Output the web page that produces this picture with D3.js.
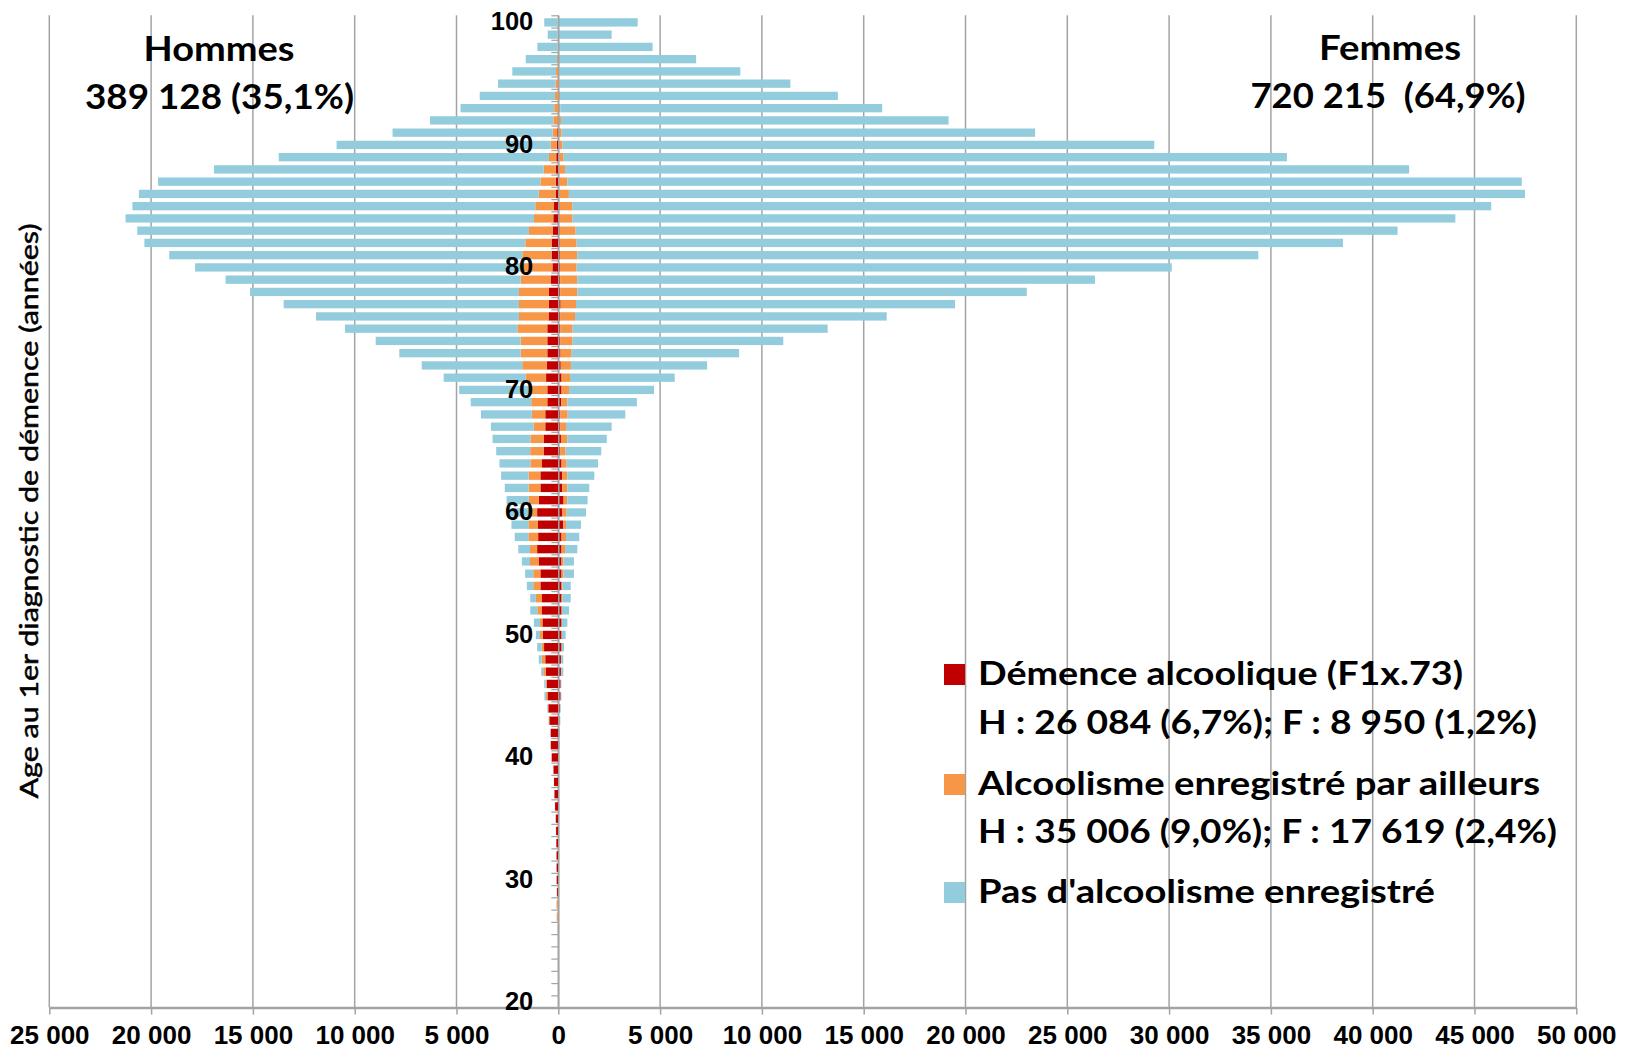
<!DOCTYPE html>
<html><head><meta charset="utf-8">
<script src="https://cdn.jsdelivr.net/npm/d3@7"></script>
<style>body{margin:0;background:#fff}svg{display:block}</style>
</head><body>
<script>
// ages from 100 (top) down to 20 (bottom)
const ages = d3.range(100, 19, -1);

// Hommes (values per age, 100 -> 20)
const hommesDemence = [0,0,0,0,10,15,20,25,30,50, 80,100,115,120,130,210,245,280,330,330, 290,380,460,470,480,540,540,540,560,600, 540,540,640,640,720,720,800,880,880,960, 1040,1000,990,1040,970,880,880,800,800,780, 760,700,640,610,570,530,490,440,375,370, 325,240,210,190,160,120,110,100,90,85, 80,60,20,20,10,5,0,0,0,0, 0];
const hommesAlcool = [20,20,30,60,100,115,140,175,210,230, 300,360,605,760,830,920,950,1160,1290,1440, 1510,1470,1470,1460,1450,1470,1310,1310,1210,1000, 910,790,660,580,650,660,570,580,580,490, 410,470,480,350,420,350,350,300,230,120, 140,115,175,130,50,70,20,20,10,5, 5,10,3,5,5,5,5,5,5,5, 5,15,65,55,20,15,15,10,5,5, 5];
const hommesSans = [670,500,1000,1540,2150,2830,3700,4600,6060,7860, 10510,13270,16190,18780,19640,19790,20060,19240,18710,17340, 16040,14490,13210,11560,9970,8470,7120,5960,4940,4030, 3420,2970,2500,2090,1860,1670,1520,1350,1170,1090, 1050,830,670,575,400,400,315,280,350,300, 200,225,145,100,70,80,30,20,15,5, 0,10,2,5,5,5,5,5,5,5, 5,5,5,5,10,10,10,10,10,5, 5];

// Femmes
const femmesDemence = [0,0,0,0,5,5,10,10,15,20, 30,40,45,50,50,60,60,70,70,80, 80,90,90,115,100,100,100,110,120,160, 160,150,100,100,130,100,160,195,195,260, 200,245,160,160,160,160,160,160,160,160, 160,160,130,130,115,115,80,60,40,30, 20,10,10,10,10,10,10,10,10,10, 10,0,0,0,0,0,0,0,0,0, 0];
const femmesAlcool = [10,10,20,30,45,55,70,90,115,140, 170,220,285,390,470,630,630,780,830,850, 820,840,840,755,720,600,600,545,500,415, 365,290,360,280,310,260,250,245,245,180, 210,135,220,170,90,90,40,40,20,10, 10,10,10,10,5,5,5,5,5,5, 5,5,5,5,5,5,5,5,5,5, 5,5,5,5,5,5,5,5,5,5, 5];
const femmesSans = [3890,2610,4610,6740,8890,11340,13650,15810,19040,23260, 29070,35530,41460,46880,46960,45130,43370,40370,37640,33450, 29230,25430,22080,18620,15310,12530,10350,8225,6690,5145, 4175,3420,2830,2240,1940,1750,1540,1330,1080,1000, 950,735,650,605,520,520,410,410,350,275, 190,110,105,105,30,30,35,35,35,35, 25,25,25,25,25,25,25,25,25,25, 25,35,35,35,35,35,35,35,35,35, 35];

const xTicks = d3.range(-25000, 50001, 5000);
const ageLabels = [100, 90, 80, 70, 60, 50, 40, 30, 20];
const seriesKeys = ["hD", "hA", "hS", "fD", "fA", "fS"];
const legendLines = [
  "Démence alcoolique (F1x.73)",
  "H : 26 084 (6,7%); F : 8 950 (1,2%)",
  "Alcoolisme enregistré par ailleurs",
  "H : 35 006 (9,0%); F : 17 619 (2,4%)",
  "Pas d'alcoolisme enregistré"
];

const W = 1631, H = 1052;
const RED = "#C00000", ORANGE = "#F79646", BLUE = "#93CDDD", GRID = "#a3a3a3";
const colors = {hD: RED, hA: ORANGE, hS: BLUE, fD: RED, fA: ORANGE, fS: BLUE};

const svg = d3.select("body").append("svg").attr("width", W).attr("height", H)
  .style("background", "#fff");

const x = d3.scaleLinear().domain([-25000, 50000]).range([49.3, 1576.3]);
const plotTop = 15.3, plotBottom = 1007.6;
const y = d3.scaleBand().domain(ages).range([plotTop, plotBottom])
  .paddingInner(0.32).paddingOuter(0.16).align(0.75);
const yEdge = d3.scaleLinear().domain([100.5, 19.5]).range([plotTop, plotBottom]);

// vertical gridlines
svg.append("g").selectAll("line").data(xTicks).join("line")
  .attr("x1", d => x(d)).attr("x2", d => x(d))
  .attr("y1", plotTop).attr("y2", plotBottom)
  .attr("stroke", GRID).attr("stroke-width", 1.5);

// bottom axis
const fr = d3.formatLocale({decimal: ",", thousands: " ", grouping: [3], currency: ["", ""]});
const fmt = fr.format(",");
const xAxis = svg.append("g").attr("transform", `translate(0,${plotBottom})`)
  .call(d3.axisBottom(x).tickValues(xTicks).tickSize(7).tickSizeOuter(0).tickFormat(d => fmt(Math.abs(d))));
xAxis.select(".domain").attr("stroke", GRID).attr("stroke-width", 2.5);
xAxis.selectAll(".tick line").attr("stroke", GRID).attr("stroke-width", 1.5);
xAxis.selectAll(".tick text")
  .attr("y", 18).attr("dy", "0.71em")
  .style("font-family", "'Liberation Sans', Arial, sans-serif")
  .style("font-weight", "bold").style("font-size", "26px").attr("fill", "#000");

// stacked bars
const rows = ages.map((a, i) => ({
  age: a,
  hD: -hommesDemence[i], hA: -hommesAlcool[i], hS: -hommesSans[i],
  fD: femmesDemence[i], fA: femmesAlcool[i], fS: femmesSans[i]
}));
const stacked = d3.stack().keys(seriesKeys).offset(d3.stackOffsetDiverging)(rows);
svg.append("g").selectAll("g").data(stacked).join("g")
  .attr("fill", s => colors[s.key])
  .selectAll("rect").data(s => s).join("rect")
  .attr("x", d => x(Math.min(d[0], d[1])))
  .attr("width", d => Math.abs(x(d[1]) - x(d[0])))
  .attr("y", d => y(d.data.age))
  .attr("height", y.bandwidth());

// central vertical axis with minor ticks
const yAxis = svg.append("g").attr("transform", `translate(${x(0)},0)`)
  .call(d3.axisLeft(yEdge).tickValues(d3.range(19.5, 101, 1)).tickSize(7).tickSizeOuter(0).tickFormat(""));
yAxis.select(".domain").attr("stroke", GRID).attr("stroke-width", 1.5);
yAxis.selectAll(".tick line").attr("stroke", GRID).attr("stroke-width", 1.2);

// age labels
svg.append("g").selectAll("text").data(ageLabels).join("text")
  .attr("x", x(0) - 25).attr("y", d => yEdge(d) + 8.8)
  .attr("text-anchor", "end")
  .style("font-family", "'Liberation Sans', Arial, sans-serif")
  .style("font-weight", "bold").style("font-size", "25.5px")
  .text(d => d);

function fit(sel, w) {
  const n = sel.node().getComputedTextLength();
  if (Math.abs(n - w) > 1.5) sel.attr("textLength", w).attr("lengthAdjust", "spacingAndGlyphs");
  return sel;
}
function label(txt, cx, by, size, w, anchor, weight) {
  const t = svg.append("text").attr("x", cx).attr("y", by)
    .attr("text-anchor", anchor || "middle")
    .style("font-family", "Lato, 'Open Sans', sans-serif")
    .style("font-weight", weight || "bold").style("font-size", size + "px")
    .style("white-space", "pre").attr("xml:space", "preserve")
    .attr("fill", "#000").text(txt);
  return fit(t, w);
}

// titles
label("Hommes", 219, 61, 34, 151);
label("389 128 (35,1%)", 219.5, 109, 34, 269);
label("Femmes", 1390, 60, 35, 142);
label("720 215  (64,9%)", 1388, 108, 34, 275);

// y axis title
const yt = svg.append("text").attr("transform", "translate(38,511) rotate(-90)")
  .attr("text-anchor", "middle")
  .style("font-family", "Lato, 'Open Sans', sans-serif")
  .style("font-size", "25px").attr("fill", "#000")
  .attr("stroke", "#000").attr("stroke-width", 0.5)
  .text("Age au 1er diagnostic de démence (années)");
fit(yt, 575);

// legend
const legSquares = [{c: RED, y: 664}, {c: ORANGE, y: 774}, {c: BLUE, y: 882}];
svg.append("g").selectAll("rect").data(legSquares).join("rect")
  .attr("x", 944).attr("y", d => d.y).attr("width", 21).attr("height", 21)
  .attr("fill", d => d.c);
const legBase = [685, 733.5, 795, 843, 903];
const legW = [485, 559, 562, 579, 457];
legendLines.forEach((t, i) => label(t, 978, legBase[i], 32, legW[i], "start"));
</script>
</body></html>
